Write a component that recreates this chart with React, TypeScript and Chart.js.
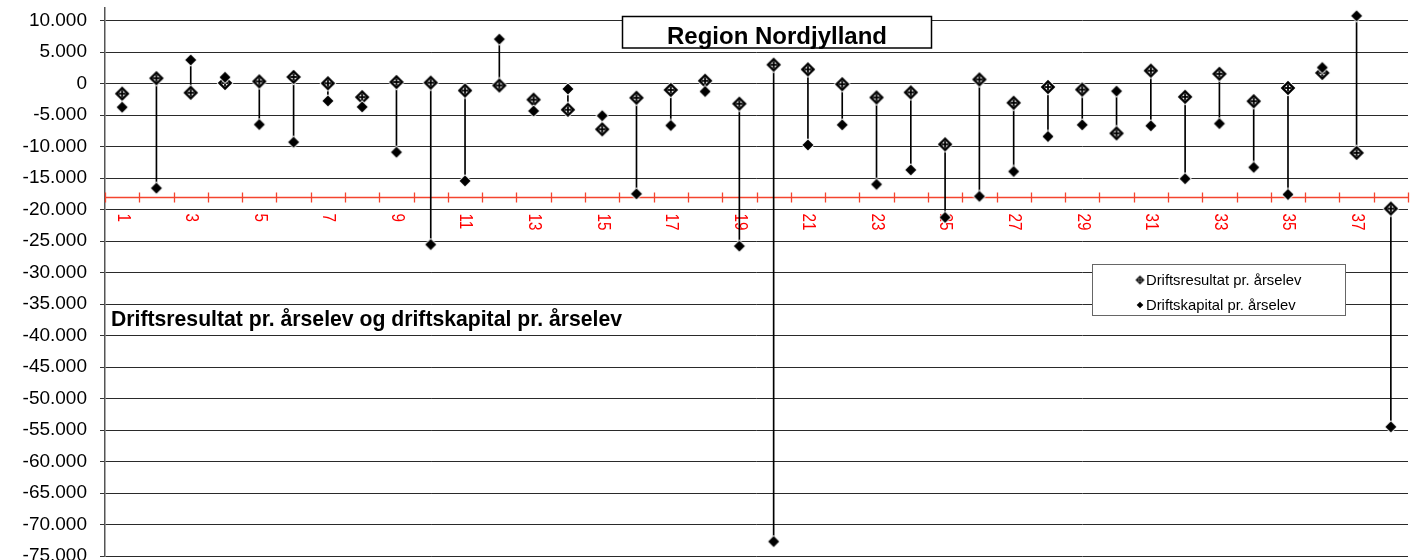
import React, { useEffect, useRef } from 'react';
import { Chart, registerables } from 'chart.js';

Chart.register(...registerables);

// ---------- data ----------
const categories = [
  '1', '2', '3', '4', '5', '6', '7', '8', '9', '10',
  '11', '12', '13', '14', '15', '16', '17', '18', '19', '20',
  '21', '22', '23', '24', '25', '26', '27', '28', '29', '30',
  '31', '32', '33', '34', '35', '36', '37', '38',
];
const shownCategoryLabels = ['1', '3', '5', '7', '9', '11', '13', '15', '17', '19', '21', '23', '25', '27', '29', '31', '33', '35', '37'];

const driftsresultat = [
  -1600, 850, -1450, 100, 350, 1050, 50, -2150, 250, 150,
  -1100, -300, -2550, -4150, -7250, -2250, -1000, 450, -3200, 3000,
  2250, -100, -2200, -1400, -9650, 650, -3050, -550, -950, -7900,
  2050, -2100, 1550, -2800, -700, 1700, -11000, -19850,
];
const driftskapital = [
  -3750, -16600, 3750, 1000, -6500, -9300, -2750, -3700, -10900, -25550,
  -15450, 7050, -4350, -850, -5100, -17500, -6650, -1250, -25800, -72700,
  -9750, -6550, -16000, -13700, -21250, -17900, -13950, -8400, -6550, -1200,
  -6700, -15100, -6350, -13300, -17600, 2550, 10750, -54500,
];

const yTickValues = [
  10000, 5000, 0, -5000, -10000, -15000, -20000, -25000, -30000,
  -35000, -40000, -45000, -50000, -55000, -60000, -65000, -70000, -75000,
];

const Y_MIN = -75000;
const Y_MAX = 12000;
const AXIS_CROSS = -18000;

const chartTitle = 'Region Nordjylland';
const subTitle = 'Driftsresultat pr. årselev og driftskapital pr. årselev';
const seriesNames = ['Driftsresultat pr. årselev', 'Driftskapital pr. årselev'];

const FONT = '"Liberation Sans", Arial, Helvetica, sans-serif';

function fmt(v: number): string {
  const s = Math.abs(Math.round(v)).toString().replace(/\B(?=(\d{3})+(?!\d))/g, '.');
  return (v < 0 ? '-' : '') + s;
}

function diamond(g: CanvasRenderingContext2D, cx: number, cy: number, r: number, col: string) {
  g.beginPath();
  g.moveTo(cx, cy - r);
  g.lineTo(cx + r, cy);
  g.lineTo(cx, cy + r);
  g.lineTo(cx - r, cy);
  g.closePath();
  g.fillStyle = col;
  g.fill();
}

function makeOpenDiamond(scale = 1): HTMLCanvasElement {
  const size = Math.round(18 * scale);
  const c = document.createElement('canvas');
  c.width = size;
  c.height = size;
  const g = c.getContext('2d')!;
  const cx = size / 2, cy = size / 2;
  diamond(g, cx, cy, 8.5 * scale, '#fff');
  diamond(g, cx, cy, 7.3 * scale, '#000');
  diamond(g, cx, cy, 4.0 * scale, '#fff');
  g.fillStyle = '#000';
  g.fillRect(cx - 0.9 * scale, cy - 3.6 * scale, 1.8 * scale, 7.2 * scale);
  g.fillRect(cx - 3.6 * scale, cy - 0.9 * scale, 7.2 * scale, 1.8 * scale);
  return c;
}

function makeFilledDiamond(scale = 1): HTMLCanvasElement {
  const size = Math.round(14 * scale);
  const c = document.createElement('canvas');
  c.width = size;
  c.height = size;
  const g = c.getContext('2d')!;
  diamond(g, size / 2, size / 2, 6.8 * scale, '#fff');
  diamond(g, size / 2, size / 2, 5.5 * scale, '#000');
  return c;
}

const overlayPlugin = {
  id: 'overlay',
  beforeDatasetsDraw(chart: any) {
    const { ctx, chartArea: a, scales } = chart;
    const x = scales.x;
    const y = scales.y;
    const yy = Math.round(y.getPixelForValue(AXIS_CROSS)) + 0.5;
    ctx.save();
    ctx.strokeStyle = '#f4442e';
    ctx.lineWidth = 1.3;
    ctx.beginPath();
    ctx.moveTo(a.left, yy);
    ctx.lineTo(a.right, yy);
    const n = categories.length;
    for (let i = 0; i <= n; i++) {
      const bx = Math.round(a.left + ((a.right - a.left) * i) / n) + 0.5;
      ctx.moveTo(bx, yy - 5);
      ctx.lineTo(bx, yy + 5);
    }
    ctx.stroke();
    ctx.fillStyle = '#ff0000';
    ctx.font = `18.5px ${FONT}`;
    ctx.textAlign = 'left';
    ctx.textBaseline = 'middle';
    categories.forEach((c, i) => {
      if (!shownCategoryLabels.includes(c)) return;
      const px = x.getPixelForValue(i);
      ctx.save();
      ctx.translate(px + 0.5, yy + 16);
      ctx.rotate(Math.PI / 2);
      ctx.scale(0.82, 1);
      ctx.fillText(c, 0, 0);
      ctx.restore();
    });
    ctx.restore();
  },
  afterDraw(chart: any) {
    const { ctx } = chart;
    ctx.save();
    // Title box
    ctx.fillStyle = '#fff';
    ctx.fillRect(622, 16, 310, 32);
    ctx.strokeStyle = '#000';
    ctx.lineWidth = 1.5;
    ctx.strokeRect(622.5, 16.5, 309, 31.5);
    ctx.fillStyle = '#000';
    ctx.font = `bold 24px ${FONT}`;
    ctx.textAlign = 'center';
    ctx.textBaseline = 'alphabetic';
    ctx.fillText(chartTitle, 777, 44);

    // Subtitle
    ctx.font = `bold 21.2px ${FONT}`;
    ctx.textAlign = 'left';
    ctx.fillText(subTitle, 111, 326);

    // Legend
    ctx.fillStyle = '#fff';
    ctx.fillRect(1092, 264, 254, 52);
    ctx.strokeStyle = '#666';
    ctx.lineWidth = 1;
    ctx.strokeRect(1092.5, 264.5, 253, 51);
    const openSmall = makeOpenDiamond(0.62);
    const filledSmall = makeFilledDiamond(0.6);
    ctx.drawImage(openSmall, 1140 - openSmall.width / 2, 280 - openSmall.height / 2);
    ctx.drawImage(filledSmall, 1140 - filledSmall.width / 2, 305 - filledSmall.height / 2);
    ctx.fillStyle = '#000';
    ctx.font = `14.8px ${FONT}`;
    ctx.textBaseline = 'middle';
    ctx.fillText(seriesNames[0], 1146, 281);
    ctx.fillText(seriesNames[1], 1146, 306);
    ctx.restore();
  },
};

export default function App() {
  const canvasRef = useRef<HTMLCanvasElement | null>(null);

  useEffect(() => {
    document.body.style.margin = '0';
    const canvas = canvasRef.current;
    if (!canvas) return;
    const openMarker = makeOpenDiamond(1);
    const filledMarker = makeFilledDiamond(1);

    const chart = new Chart(canvas, {
      type: 'bar',
      data: {
        labels: categories,
        datasets: [
          {
            type: 'line',
            label: seriesNames[0],
            data: driftsresultat,
            showLine: false,
            pointStyle: openMarker as any,
            pointRadius: 8,
            order: 2,
            clip: false,
          } as any,
          {
            type: 'line',
            label: seriesNames[1],
            data: driftskapital,
            showLine: false,
            pointStyle: filledMarker as any,
            pointRadius: 7,
            order: 1,
            clip: false,
          } as any,
          {
            type: 'bar',
            label: 'hl',
            data: driftsresultat.map((v, i) => [v, driftskapital[i]]),
            backgroundColor: '#000',
            borderWidth: 0,
            barThickness: 1,
            grouped: false,
            order: 3,
          } as any,
        ],
      },
      options: {
        animation: false,
        responsive: false,
        devicePixelRatio: 1,
        events: [],
        layout: { autoPadding: false, padding: { top: 8, bottom: 4, left: 0, right: 2 } },
        plugins: {
          legend: { display: false },
          tooltip: { enabled: false },
          title: { display: false },
        },
        scales: {
          x: {
            type: 'category',
            display: false,
            offset: true,
            grid: { display: false },
          },
          y: {
            type: 'linear',
            min: Y_MIN,
            max: Y_MAX,
            afterBuildTicks: (s: any) => {
              s.ticks = yTickValues.map((v) => ({ value: v }));
            },
            afterFit: (s: any) => {
              s.width = 105;
              s.paddingTop = 0;
              s.paddingBottom = 0;
            },
            ticks: {
              autoSkip: false,
              callback: (v: any) => fmt(Number(v)),
              color: '#000',
              font: { family: FONT, size: 19 },
              padding: 13,
            },
            grid: {
              color: '#2a2a2a',
              lineWidth: 1,
              tickLength: 5,
              tickColor: '#333',
            },
            border: { display: true, color: '#555', width: 1.5 },
          },
        },
      } as any,
      plugins: [overlayPlugin],
    });
    return () => chart.destroy();
  }, []);

  return (
    <div style={{ width: 1410, height: 560, overflow: 'hidden' }}>
      <canvas ref={canvasRef} width={1410} height={560} style={{ display: 'block' }} />
    </div>
  );
}
